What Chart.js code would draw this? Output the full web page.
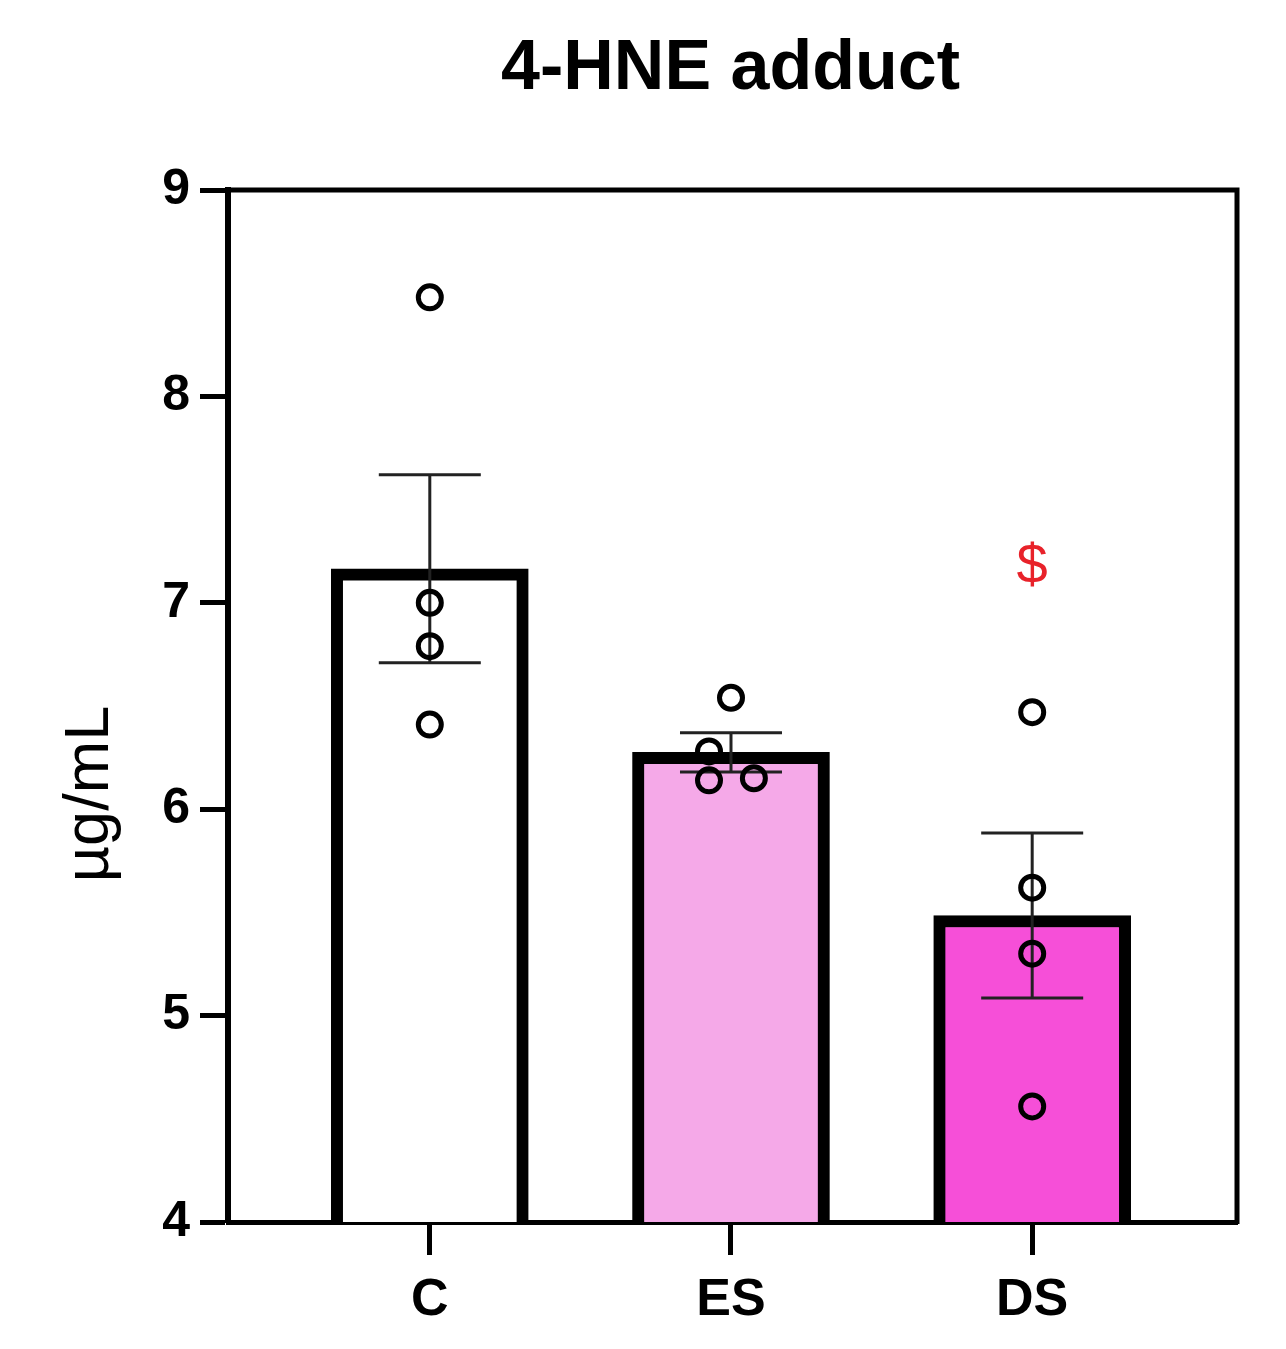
<!DOCTYPE html>
<html>
<head>
<meta charset="utf-8">
<script src="https://cdn.jsdelivr.net/npm/chart.js@4.4.1/dist/chart.umd.min.js"></script>
<style>
  html, body { margin: 0; padding: 0; background: #fff; }
  #wrap { width: 1286px; height: 1349px; }
</style>
</head>
<body>
<div id="wrap"><canvas id="c" width="1286" height="1349"></canvas></div>
<script>
// ---- data ----
const categories = ['C', 'ES', 'DS'];
const barMeans = [7.165, 6.275, 5.485];
const semValues = [0.455, 0.095, 0.40];
const pointsC = [8.48, 7.00, 6.79, 6.41];
const pointsES = [6.54, 6.28, 6.14, 6.15];
const pointsDS = [6.47, 5.62, 5.30, 4.56];
const jitterC = [0, 0, 0, 0];
const jitterES = [0, -0.073, -0.073, 0.076];
const jitterDS = [0, 0, 0, 0];
const yTicks = [4, 5, 6, 7, 8, 9];
const titleText = '4-HNE adduct';
const yTitleText = 'µg/mL';
const markLabels = ['', '', '$'];
const markValues = [null, null, 7.17];

const FONT = "'Liberation Sans', Arial, Helvetica, sans-serif";
const barColors = ['#ffffff', '#f5a9e8', '#f64fd8'];

const groups = [pointsC, pointsES, pointsDS];
const jitters = [jitterC, jitterES, jitterDS];
const scatterData = [];
groups.forEach((g, i) => g.forEach((v, j) => scatterData.push({ x: i + jitters[i][j], y: v })));

const decorPlugin = {
  id: 'decor',
  afterDatasetDraw(chart, args) {
    if (args.index !== 0) return;
    const ctx = chart.ctx, xs = chart.scales.x, ys = chart.scales.y;
    ctx.save();
    ctx.strokeStyle = '#222';
    ctx.lineWidth = 3;
    const capHalf = 51;
    barMeans.forEach((m, i) => {
      const x = xs.getPixelForValue(i);
      const yt = ys.getPixelForValue(m + semValues[i]);
      const yb = ys.getPixelForValue(m - semValues[i]);
      ctx.beginPath();
      ctx.moveTo(x, yt); ctx.lineTo(x, yb);
      ctx.moveTo(x - capHalf, yt); ctx.lineTo(x + capHalf, yt);
      ctx.moveTo(x - capHalf, yb); ctx.lineTo(x + capHalf, yb);
      ctx.stroke();
    });
    ctx.restore();
  },
  afterDraw(chart) {
    const ctx = chart.ctx, a = chart.chartArea, xs = chart.scales.x, ys = chart.scales.y;
    ctx.save();
    // frame top & right
    ctx.strokeStyle = '#000';
    ctx.lineWidth = 5;
    ctx.beginPath();
    ctx.moveTo(a.left - 3, a.top);
    ctx.lineTo(a.right, a.top);
    ctx.lineTo(a.right, a.bottom + 2);
    ctx.stroke();
    // title
    ctx.fillStyle = '#000';
    ctx.font = "bold 70px " + FONT;
    ctx.textAlign = 'center';
    ctx.textBaseline = 'middle';
    ctx.fillText(titleText, (a.left + a.right) / 2 - 2, 70);
    // y title
    ctx.save();
    ctx.translate(91, 794);
    ctx.rotate(-Math.PI / 2);
    ctx.font = "63px " + FONT;
    ctx.fillText(yTitleText, 0, 0);
    ctx.restore();
    // significance marks
    ctx.fillStyle = '#e8222a';
    ctx.font = "56px " + FONT;
    markLabels.forEach((t, i) => {
      if (!t) return;
      ctx.fillText(t, xs.getPixelForValue(i), ys.getPixelForValue(markValues[i]));
    });
    ctx.restore();
  }
};

new Chart(document.getElementById('c'), {
  type: 'bar',
  data: {
    datasets: [
      {
        type: 'bar',
        data: barMeans.map((v, i) => ({ x: i, y: v })),
        backgroundColor: barColors,
        borderColor: '#000',
        borderWidth: 12,
        barThickness: 197,
        order: 2
      },
      {
        type: 'scatter',
        data: scatterData,
        pointRadius: 11.5,
        pointBorderWidth: 5,
        pointBackgroundColor: 'rgba(0,0,0,0)',
        pointBorderColor: '#000',
        order: 1
      }
    ]
  },
  options: {
    responsive: false,
    animation: false,
    layout: { padding: { top: 190, right: 49, left: 0, bottom: 0 } },
    plugins: { legend: { display: false }, tooltip: { enabled: false }, title: { display: false } },
    scales: {
      x: {
        type: 'linear',
        offset: false,
        min: -0.67,
        max: 2.68,
        afterBuildTicks: s => { s.ticks = categories.map((c, i) => ({ value: i })); },
        ticks: {
          callback: v => categories[v] ?? '',
          font: { family: FONT, size: 52, weight: 'bold' },
          color: '#000',
          padding: 14,
          autoSkip: false,
          maxRotation: 0
        },
        grid: { drawOnChartArea: false, drawTicks: true, tickLength: 33, tickWidth: 5, tickColor: '#000', offset: false },
        border: { display: true, color: '#000', width: 5 },
        afterFit: s => { s.height = 127; }
      },
      y: {
        type: 'linear',
        min: 4,
        max: 9,
        afterBuildTicks: s => { s.ticks = yTicks.map(v => ({ value: v })); },
        ticks: {
          font: { family: FONT, size: 50, weight: 'bold' },
          color: '#000',
          padding: 10
        },
        grid: { drawOnChartArea: false, drawTicks: true, tickLength: 28, tickWidth: 5, tickColor: '#000' },
        border: { display: true, color: '#000', width: 6 },
        afterFit: s => { s.width = 228; }
      }
    }
  },
  plugins: [decorPlugin]
});
</script>
</body>
</html>
